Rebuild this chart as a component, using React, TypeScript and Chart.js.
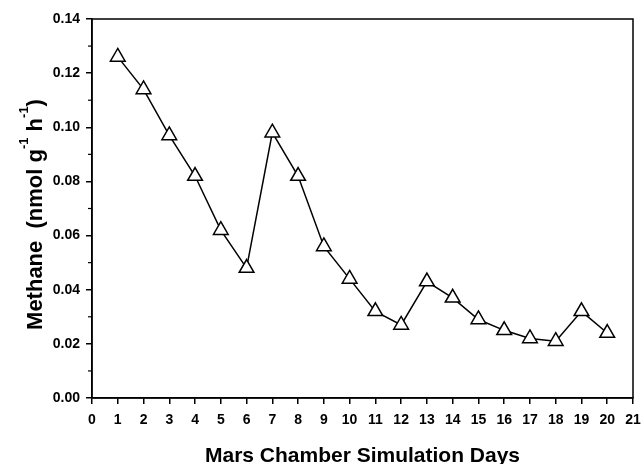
import React, { useEffect, useRef } from "react";
import { Chart, registerables } from "chart.js";

Chart.register(...registerables);

const days = [1, 2, 3, 4, 5, 6, 7, 8, 9, 10, 11, 12, 13, 14, 15, 16, 17, 18, 19, 20];
const methane = [0.126, 0.114, 0.097, 0.082, 0.062, 0.048, 0.098, 0.082, 0.056, 0.044, 0.032, 0.027, 0.043, 0.037, 0.029, 0.025, 0.022, 0.021, 0.032, 0.024];
const xTitle = "Mars Chamber Simulation Days";
const yTitleParts: { text: string; sup?: boolean }[] = [
  { text: "Methane  (nmol g" },
  { text: "-1", sup: true },
  { text: " h" },
  { text: "-1", sup: true },
  { text: ")" },
];

const FONT = "'Liberation Sans', Arial, Helvetica, sans-serif";

const framePlugin = {
  id: "frame",
  afterDraw(chart: any) {
    const { ctx, chartArea } = chart;
    const { left, right, top, bottom } = chartArea;
    ctx.save();
    ctx.strokeStyle = "#000";
    ctx.lineWidth = 1.5;
    ctx.strokeRect(left, top, right - left, bottom - top);
    // minor y ticks
    const y = chart.scales.y;
    ctx.lineWidth = 1.2;
    for (let v = 0.01; v < 0.14; v += 0.02) {
      const py = y.getPixelForValue(v);
      ctx.beginPath();
      ctx.moveTo(left - 4, py);
      ctx.lineTo(left, py);
      ctx.stroke();
    }
    // x title
    ctx.fillStyle = "#000";
    ctx.font = `bold 21px ${FONT}`;
    ctx.textAlign = "center";
    ctx.textBaseline = "alphabetic";
    ctx.fillText(xTitle, (left + right) / 2, 462);
    // y title with superscripts
    const mainFont = `bold 22px ${FONT}`;
    const supFont = `bold 13px ${FONT}`;
    let total = 0;
    for (const p of yTitleParts) {
      ctx.font = p.sup ? supFont : mainFont;
      total += ctx.measureText(p.text).width;
    }
    ctx.translate(42, (top + bottom) / 2 + 6);
    ctx.rotate(-Math.PI / 2);
    ctx.textAlign = "left";
    let cx = -total / 2;
    for (const p of yTitleParts) {
      ctx.font = p.sup ? supFont : mainFont;
      ctx.fillText(p.text, cx, p.sup ? -14 : 0);
      cx += ctx.measureText(p.text).width;
    }
    ctx.restore();
  },
};

export default function App() {
  const ref = useRef<HTMLCanvasElement>(null);
  useEffect(() => {
    document.body.style.margin = "0";
    const canvas = ref.current!;
    const chart = new Chart(canvas, {
      type: "line",
      data: {
        datasets: [
          {
            data: days.map((d, i) => ({ x: d, y: methane[i] })),
            borderColor: "#000",
            borderWidth: 1.5,
            pointStyle: "triangle",
            pointRadius: 8.5,
            pointHoverRadius: 8.5,
            pointBackgroundColor: "#fff",
            pointBorderColor: "#000",
            pointBorderWidth: 1.5,
            tension: 0,
          },
        ],
      },
      options: {
        animation: false,
        responsive: false,
        devicePixelRatio: 1,
        layout: { padding: { top: 19, right: 6, left: 0, bottom: 0 } },
        plugins: { legend: { display: false }, tooltip: { enabled: false } },
        scales: {
          x: {
            type: "linear",
            min: 0,
            max: 21,
            ticks: {
              stepSize: 1,
              color: "#000",
              font: { family: FONT, size: 14, weight: "bold" },
              padding: 8,
              maxRotation: 0,
              autoSkip: false,
            },
            grid: { drawOnChartArea: false, drawTicks: true, tickLength: 6, color: "#000", lineWidth: 1.5 },
            border: { display: true, color: "#000", width: 1.5 },
            afterFit(scale: any) {
              scale.height = 66;
              scale.paddingLeft = 0;
              scale.paddingRight = 0;
            },
          },
          y: {
            min: 0,
            max: 0.14,
            ticks: {
              stepSize: 0.02,
              color: "#000",
              font: { family: FONT, size: 14, weight: "bold" },
              padding: 6,
              callback: (v: any) => Number(v).toFixed(2),
            },
            grid: { drawOnChartArea: false, drawTicks: true, tickLength: 6, color: "#000", lineWidth: 1.5 },
            border: { display: true, color: "#000", width: 1.5 },
            afterFit(scale: any) {
              scale.width = 92;
              scale.paddingTop = 0;
              scale.paddingBottom = 0;
            },
          },
        },
      },
      plugins: [framePlugin],
    } as any);
    return () => chart.destroy();
  }, []);
  return <canvas ref={ref} width={643} height={464} style={{ display: "block" }} />;
}
